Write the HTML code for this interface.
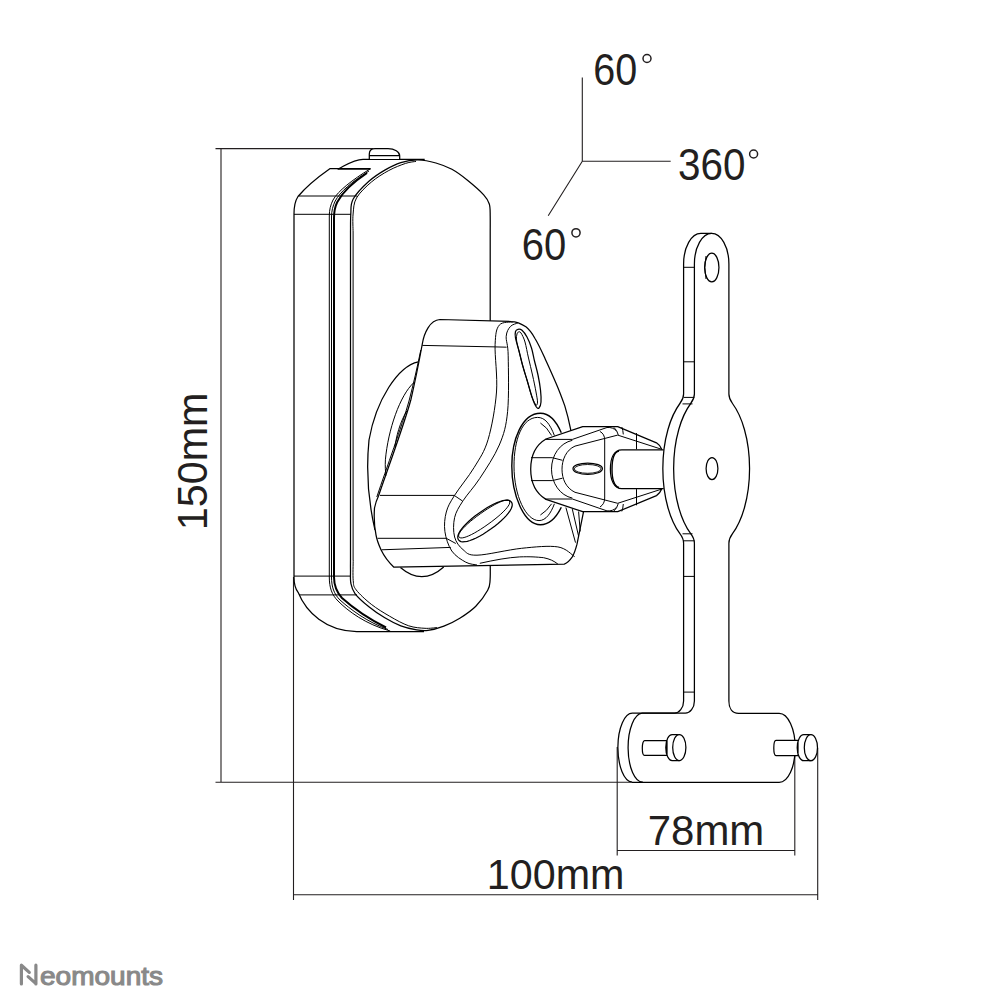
<!DOCTYPE html>
<html><head><meta charset="utf-8">
<style>
html,body{margin:0;padding:0;background:#fff;width:1004px;height:1004px;overflow:hidden}
svg{display:block}
text{font-family:"Liberation Sans",sans-serif;fill:#231f20}
</style></head>
<body>
<svg width="1004" height="1004" viewBox="0 0 1004 1004">
<rect width="1004" height="1004" fill="#fff"/>
<!-- dimension lines -->
<g stroke="#231f20" stroke-width="1.1" fill="none">
<path d="M215.5 148.6H386 M221 148.6V782.3 M215.5 782.3H632 M293.5 577V900 M293.5 894.8H817.7 M817.7 748V900 M617.2 747V855.5 M794.8 747V855.5 M617.2 850.5H794.8"/>
<path d="M582.3 77.6V161.3H670.7 M582.3 161.3L548.2 215.7"/>
</g>
<!-- speaker body -->
<g id="speaker" stroke="#000" stroke-width="1.25" fill="none" stroke-linejoin="round">
<!-- back piece -->
<path d="M294 577V214C294 206 295 201 298 196.5C305 188 318 177 329.8 168.7H338.8C346 165 354 159.3 363 159.3H424.7"/>
<path d="M294 577C294 584 295.5 589 298.1 592.3C306 612 326 631.5 356.7 631.5H424"/>
<path d="M294 214.3H351 M299 196H357 M294 576.1H351 M299 594.9H357" stroke-width="1"/>
<!-- groove -->
<path d="M337.6 168.9H370.5" stroke-width="1.8"/>
<path d="M370.5 168.7C352 180 338 191 333 200C330.5 205 329.3 210 329.3 216V577C329.3 588 332 595 338 601C348 611 365 624 390.2 631" stroke-width="1"/>
<path d="M369 171C352 181.5 340 192 335.2 201C332.8 206 331.5 211 331.5 217V577C331.5 587 334 594 340 600C350 609 367 622 388 629.5" stroke-width="1"/>
<path d="M367 173C352 183 342 193 337.3 202C334.8 207 334 212 334 218V577C334 586 336.5 592 342 598C352 607 369 619 386 627.5" stroke-width="2"/>
<!-- front face -->
<path d="M350.5 232.0C350.6 229.0 350.4 219.5 350.8 214.0C351.2 208.5 350.2 204.4 353.2 199.0C356.2 193.6 363.6 186.1 368.9 181.3C374.2 176.5 379.5 173.2 384.8 170.1C390.1 167.0 395.3 164.3 400.8 162.6C406.3 160.9 412.1 159.9 418.0 160.0C423.9 160.1 430.2 161.4 435.9 163.0C441.5 164.6 446.6 166.4 451.9 169.3C457.2 172.2 462.5 176.2 467.8 180.5C473.1 184.8 480.1 190.9 483.7 194.8C487.3 198.7 488.2 200.5 489.3 204.0C490.4 207.5 490.1 211.3 490.2 216.0C490.3 220.7 490.2 229.3 490.2 232.0"/>
<path d="M490.2 560.0C490.2 563.3 490.5 574.9 490.1 579.9C489.7 584.9 490.1 585.9 487.7 590.3C485.3 594.7 480.4 601.6 475.8 606.2C471.2 610.9 465.1 614.9 459.8 618.2C454.5 621.5 449.2 624.1 443.9 626.1C438.6 628.1 432.5 629.8 428.0 630.4C423.5 631.0 421.2 630.7 416.7 629.9C412.2 629.1 406.1 627.8 400.8 625.8C395.5 623.8 390.1 621.0 384.8 617.8C379.5 614.6 373.9 610.8 368.9 606.7C363.9 602.7 358.0 597.5 355.0 593.5C352.0 589.5 351.6 586.9 350.8 583.0C350.1 579.1 350.6 573.8 350.5 570.0C350.4 566.2 350.5 561.7 350.5 560.0"/>
<path d="M350.5 232V560 M490.2 232V560"/>
<path d="M353.1 232.0C353.1 229.0 352.5 219.7 353.1 214.0C353.7 208.3 353.5 203.3 356.5 198.0C359.5 192.7 365.9 186.7 371.3 182.1C376.7 177.5 383.1 173.6 388.8 170.5C394.5 167.4 401.1 164.9 405.6 163.4C410.1 161.9 414.3 161.7 416.0 161.4 M353.1 232V560" stroke-width="1"/>
<path d="M353.2 560.0C353.2 563.4 352.7 575.4 353.2 580.4C353.7 585.4 353.2 585.9 356.2 589.9C359.2 593.9 365.7 599.9 371.3 604.3C376.9 608.7 383.4 612.6 389.6 616.2C395.8 619.8 402.8 623.8 408.7 625.8C414.6 627.8 420.3 628.0 425.0 628.3C429.7 628.6 435.0 627.7 437.0 627.6" stroke-width="1"/>
<!-- cap -->
<path d="M369.3 159.1V154C369.3 150.8 371.5 148.6 375 148.6H388C394.5 148.6 399.7 152 399.7 156V159.1 M369.3 155.5H399.7" fill="#fff"/>
</g>
<!-- knob -->
<g id="knob" stroke="#000" stroke-width="1.25" fill="none" stroke-linejoin="round">
<!-- disk mount behind -->
<path d="M418.3 361.8C398 366 376 400 369 440C366 470 368 500 375 530" fill="#fff"/>
<path d="M400.4 567.5C408 574 415 576.7 421.8 576.7C430 576.7 437 573 443.7 567" fill="#fff"/>
<!-- silhouette -->
<path d="M439.9 319.5L511.2 321.5C517 321.5 521 323.5 525.9 326.8C530 330 532.5 334 535 338.5C539 345 542 352 545.3 359.2C549 367 552 374 555.7 382.5C559 390 562 398 564.8 405.9C567 413 569 421 570.6 429.2L583.4 512.3L577 544.2C575.5 550 574 554 572.3 556.9C569.5 561 567 563 564.3 564.1L393.9 567.2C388 561.7 384 556 381 549.8C378 543 376.5 538 376 534.8C374 525 374 515 374.5 508C375.5 503 377 499 378.5 496C388 468 404 425 410.8 400C415 382 419 362 422.3 344C424 333 430 320 439.9 319.5Z" fill="#fff"/>
<path d="M413.8 382.7C400 395 388 430 385.4 459.8C385 466 385.5 472 385.9 475.7 M406.8 411C400 422 396 437 394.9 447.8" stroke-width="1"/>
<path d="M420.8 350C417.5 366 413.5 384 409 401C402 426 386.5 468 376.8 497" stroke-width="1"/>
<!-- top lobe lines -->
<path d="M422.3 345.4L495.2 346.9L506.6 347.2" stroke-width="1"/>
<path d="M513.4 321.9C511.0 322.4 502.4 321.3 499.3 325.1C496.2 328.9 495.6 333.5 495.1 344.6C494.6 355.8 497.7 376.2 496.5 392.0C495.3 407.8 491.8 426.9 488.1 439.5C484.4 452.1 479.8 458.1 474.2 467.4C468.6 476.7 459.2 487.9 454.6 495.3C450.0 502.7 447.9 506.0 446.3 512.0C444.7 518.0 444.0 525.0 444.9 531.5C445.8 538.0 448.3 545.9 451.8 551.0C455.3 556.1 461.6 559.9 465.8 562.2C470.0 564.5 475.1 564.5 477.0 565.0" stroke-width="1"/>
<path d="M517.8 323.0C516.6 323.6 512.3 324.3 510.4 326.5C508.5 328.7 506.6 331.4 506.2 336.3C505.8 341.2 508.0 343.2 508.2 355.8C508.4 368.4 509.1 396.7 507.6 411.6C506.1 426.5 504.0 433.9 499.3 445.0C494.6 456.1 485.8 469.2 479.7 478.5C473.6 487.8 467.2 494.3 463.0 500.8C458.8 507.3 456.0 511.6 454.6 517.6C453.2 523.6 453.2 531.7 454.6 537.0C456.0 542.3 459.3 546.6 463.0 549.6C466.7 552.6 467.2 555.4 477.0 555.2C486.8 555.0 508.1 549.7 521.6 548.3C535.1 546.9 549.0 545.5 557.8 546.9C566.6 548.3 571.8 555.0 574.6 556.6" stroke-width="1"/>
<path d="M479.8 563.3C495 560 508 557.5 519.7 556.9C530 556.5 537 557 543.6 557.7C550 559 554 561 557.9 564.1" stroke-width="1"/>
<!-- lower lobe lines -->
<path d="M380 495.4H454.2L462.5 501 M377.5 538.3H446.3L455.8 543.5 M381.4 549.8L450.8 547.4" stroke-width="1"/>
<!-- wing -->
<path d="M565.9 507.5L575.5 542.6 M572.3 509.1L578.6 536.2 M578.6 511.5L580.2 531.4" stroke-width="1"/>
<!-- slots -->
<path d="M518.0 329.3C519.1 329.1 520.5 329.0 522.0 330.3C523.5 331.6 525.4 334.1 527.0 337.0C528.6 339.9 530.2 344.0 531.5 348.0C532.8 352.0 533.4 356.5 534.5 361.0C535.6 365.5 537.0 370.2 538.0 375.0C539.0 379.8 540.0 385.5 540.5 390.0C541.0 394.5 541.2 399.0 541.0 402.0C540.8 405.0 539.8 407.2 539.0 408.0C538.2 408.8 537.2 408.3 536.0 406.5C534.8 404.7 533.5 401.4 532.0 397.0C530.5 392.6 528.6 385.3 527.0 380.0C525.4 374.7 523.8 369.8 522.5 365.0C521.2 360.2 520.2 355.5 519.0 351.0C517.8 346.5 516.1 341.2 515.5 338.0C514.9 334.8 515.1 332.9 515.5 331.5C515.9 330.1 516.9 329.5 518.0 329.3Z"/><path d="M518.5 332.0C519.2 331.8 519.9 331.3 521.0 333.0C522.1 334.7 523.8 337.8 525.0 342.0C526.2 346.2 527.2 352.5 528.5 358.0C529.8 363.5 531.2 369.3 532.5 375.0C533.8 380.7 535.2 387.5 536.0 392.0C536.8 396.5 537.5 399.8 537.5 402.0C537.5 404.2 536.9 405.8 536.0 405.0C535.1 404.2 533.5 401.2 532.0 397.0C530.5 392.8 528.6 385.3 527.0 380.0C525.4 374.7 523.8 369.8 522.5 365.0C521.2 360.2 520.0 355.2 519.0 351.0C518.0 346.8 516.8 342.8 516.5 340.0C516.2 337.2 516.7 335.3 517.0 334.0C517.3 332.7 517.8 332.2 518.5 332.0Z" stroke-width="1"/>
<path d="M511.46 502.13L512.11 503.49L512.25 505.02L511.93 506.77L511.16 508.72L509.96 510.86L508.33 513.17L506.31 515.60L503.91 518.15L501.17 520.76L498.09 523.44L494.68 526.16L490.75 529.06L486.72 531.84L483.04 534.17L479.51 536.21L476.14 537.95L472.96 539.39L470.00 540.51L467.29 541.30L464.87 541.74L462.77 541.83L461.02 541.57L459.62 540.94L458.54 539.87L457.89 538.51L457.75 536.98L458.07 535.23L458.84 533.28L460.04 531.14L461.67 528.83L463.69 526.40L466.09 523.85L468.83 521.24L471.91 518.56L475.32 515.84L479.25 512.94L483.28 510.16L486.96 507.83L490.49 505.79L493.86 504.05L497.04 502.61L500.00 501.49L502.71 500.70L505.13 500.26L507.23 500.17L508.98 500.43L510.38 501.06Z"/><path d="M509.44 501.00L509.80 501.94L509.71 503.07L509.19 504.44L508.26 506.03L506.93 507.82L505.22 509.79L503.15 511.92L500.75 514.18L498.03 516.55L495.03 519.00L491.74 521.54L487.97 524.29L484.15 526.96L480.68 529.24L477.38 531.28L474.26 533.08L471.34 534.61L468.65 535.87L466.23 536.85L464.10 537.52L462.30 537.89L460.84 537.94L459.73 537.65L458.96 537.00L458.60 536.06L458.69 534.93L459.21 533.56L460.14 531.97L461.47 530.18L463.18 528.21L465.25 526.08L467.65 523.82L470.37 521.45L473.37 519.00L476.66 516.46L480.43 513.71L484.25 511.04L487.72 508.76L491.02 506.72L494.14 504.92L497.06 503.39L499.75 502.13L502.17 501.15L504.30 500.48L506.10 500.11L507.56 500.06L508.67 500.35Z" stroke-width="1"/>
<!-- ring -->
<path d="M561.3 432.8C555 418 548 413.2 540.4 413.2C522 413.2 511.8 440 511.8 466C511.8 495 524 524.7 540.4 524.7C550 524.7 557 516 561.3 507.3" stroke-width="1.4"/>
<path d="M554.4 435.5C550 424 545 417.4 537.6 417.4C522 417.4 514 440 514 466C514 496 526 520.6 539 520.6C546 520.6 551 513 554.4 503.8" stroke-width="1"/>
<path d="M540.4 423Q547 427 551.6 435.5 M540.4 515Q547 511 551.6 503.8" stroke-width="1"/>
</g>
<!-- joint -->
<g id="joint" stroke="#000" stroke-width="1.25" fill="none" stroke-linejoin="round">
<path d="M546 439L582.7 426.7H617.7L656.5 442.8Q660 445 661.7 449.3V489.1Q660 493.4 656.5 495.6L617.7 511.7H582.7L546 499.4Q530.7 490 530.7 469.2Q530.7 448 546 439Z" fill="#fff"/>
<path d="M545.2 439.4H572.4L607 427.5Q613 427 616.4 431 M545.2 499H572.4L607 510.9Q613 511.4 616.4 507.4" stroke-width="1"/>
<path d="M575 446.1L617.7 435.1L661.7 449.3 M575 492.3L617.7 503.3L661.7 489.1" stroke-width="1"/>
<path d="M572.4 440.3C560 443 551.5 455 551.5 469.2C551.5 483 560 495.5 572.4 498.1 M575 446.1C566 450 562 460 562 469.2C562 479 566 488 575 492.3" stroke-width="1"/>
<path d="M531 457.7H552.3L562.5 460.3 M531 480.6H552.3L562.5 478.2" stroke-width="1"/>
<path d="M599.9 431.4Q604.7 434 604.7 440V498Q604.7 504 600 507" stroke-width="1"/>
<path d="M613.9 427.4Q617 430 618.3 434.9 M621.8 427Q623 430 623.3 434.4 M613.9 511Q617 508.4 618.3 503.5 M621.8 511.4Q623 508.4 623.3 504" stroke-width="1"/>
<path d="M636.5 433.1V449.3 M636.5 489.1V505.3" stroke-width="1"/>
<path d="M663.7 449.8H621.8C614 449.8 610.4 458 610.4 469.2C610.4 480 614 488.7 621.8 488.7H663.7" fill="#fff"/>
<path d="M619 451C614 452 612 460 612 469.2C612 478 614 486 619 487.5" stroke-width="1.4"/>
<ellipse cx="587.7" cy="468.7" rx="14.7" ry="5.7"/>
<ellipse cx="587.7" cy="468.9" rx="13.4" ry="4.4" stroke-width="0.9"/>
</g>
<!-- wall plate -->
<g id="plate" stroke="#000" stroke-width="1.25" fill="none" stroke-linejoin="round">
<path d="M694.4 394V264A17.25 30.6 0 0 1 728.9 264V394Q728.9 398.6 732.5 403.5A38 78 0 0 1 732.5 533.7Q728.9 538.6 728.9 543.2V701C728.9 708 732 713.3 738.6 713.3H779.2A16 34.5 0 0 1 779.2 782.4H632"/>
<path d="M694.4 394Q694.4 398.6 690.7 403.5A38 78 0 0 0 690.7 533.7Q694.4 538.6 694.4 543.2V701C694.4 708 690 713.2 685.3 713.2H642.3A14.5 34.4 0 0 0 642.9 782"/>
<path d="M683.6 394V264A17.25 30.6 0 0 1 700.85 233.4H711.65 M683.6 394Q683.6 398.6 679.9 403.5A38 78 0 0 0 679.9 533.7Q683.6 538.6 683.6 543.2V701C683.6 708 679 713.2 674.5 713.2H632.7 M632.7 713.2A14.5 34.4 0 0 0 632.1 782"/>
<path d="M683.6 267.3H694.4 M683.6 361.8H694.4 M683.6 397.4H694.4 M682.5 403.9H692.5 M682.5 533.8H692.5 M683.6 540.8H694.4 M683.6 576.4H694.4 M683.6 692.1H694.4" stroke-width="1"/>
<ellipse cx="711.8" cy="267.5" rx="7.15" ry="14.3"/>
<path d="M706 256Q703.5 267.5 706 279" stroke-width="1"/>
<ellipse cx="712" cy="468.6" rx="5.9" ry="11"/>
<!-- pins -->
<path d="M667 740.5H644.5A2.2 7.45 0 0 0 644.5 755.4H667Z M672.1 734.5A6.3 13 0 0 0 672.1 760.6H679.3V734.5Z" fill="#fff"/>
<ellipse cx="679.3" cy="747.5" rx="6.6" ry="13" fill="#fff"/>
<path d="M798 740.4H776A2.2 7.55 0 0 0 776 755.5H798Z M803.8 734.7A6.6 13 0 0 0 803.8 760.7H810.9V734.7Z" fill="#fff"/>
<ellipse cx="810.9" cy="747.7" rx="6.6" ry="13" fill="#fff"/>
</g>

<!-- texts -->
<g id="texts">
<text x="486.8" y="889.3" font-size="43" textLength="137.6" lengthAdjust="spacingAndGlyphs">100mm</text>
<text x="647.8" y="844.7" font-size="43" textLength="116.5" lengthAdjust="spacingAndGlyphs">78mm</text>
<text transform="translate(206.5 530.3) rotate(-90)" font-size="43" textLength="137.8" lengthAdjust="spacingAndGlyphs">150mm</text>
</g>
<text x="593.2" y="85.2" font-size="44" textLength="44" lengthAdjust="spacingAndGlyphs">60</text>
<text x="678" y="180.4" font-size="44" textLength="67.5" lengthAdjust="spacingAndGlyphs">360</text>
<text x="521.8" y="259.8" font-size="44" textLength="44.5" lengthAdjust="spacingAndGlyphs">60</text>
<g stroke="#231f20" stroke-width="1.5" fill="none"><circle cx="647" cy="58.5" r="4"/><circle cx="753.6" cy="154" r="4"/><circle cx="576" cy="232.8" r="4.1"/></g>
<!-- logo -->
<text x="40" y="985" font-size="26" style="fill:#898989;stroke:#898989;stroke-width:1.1" textLength="123" lengthAdjust="spacingAndGlyphs">eomounts</text>
<path d="M21.4 984V965.2L29.3 972.4M28.1 976.6L35.9 983.6M35.9 965.2V984" stroke="#898989" stroke-width="3.2" fill="none" stroke-linecap="round" stroke-linejoin="round"/>
</svg>
</body></html>
